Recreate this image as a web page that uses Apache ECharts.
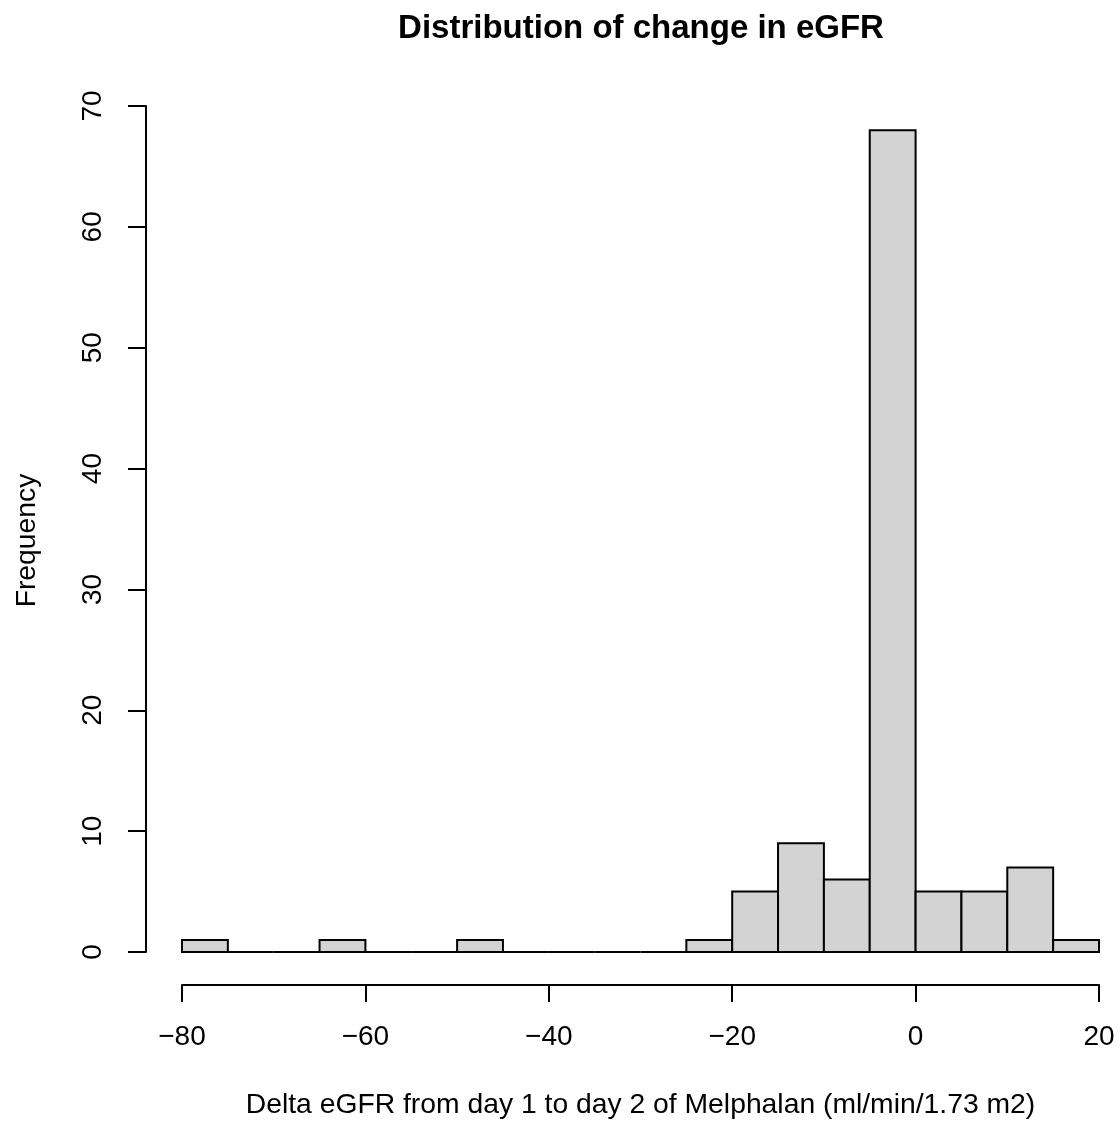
<!DOCTYPE html>
<html>
<head>
<meta charset="utf-8">
<title>Distribution of change in eGFR</title>
<script src="https://cdn.jsdelivr.net/npm/echarts@6/dist/echarts.min.js"></script>
<style>
  html, body { margin: 0; padding: 0; background: #fff; }
  #chart { width: 1120px; height: 1126px; }
</style>
</head>
<body>
<div id="chart"></div>
<script>
// histogram bins (width 5) and their counts
const binEdges = [-80, -75, -70, -65, -60, -55, -50, -45, -40, -35, -30,
  -25, -20, -15, -10, -5, 0, 5, 10, 15, 20]
const counts = [1, 0, 0, 1, 0, 0, 1, 0, 0, 0, 0, 1, 5, 9, 6, 68, 5, 5, 7, 1]
const xTicks = [-80, -60, -40, -20, 0, 20]
const yTicks = [0, 10, 20, 30, 40, 50, 60, 70]

const FONT = '"Liberation Sans", Arial, Helvetica, sans-serif'

const bins = counts.map((c, i) => [binEdges[i], binEdges[i + 1], c])

const chart = echarts.init(document.getElementById('chart'), null, { renderer: 'canvas' })

chart.setOption({
  backgroundColor: '#ffffff',
  animation: false,
  title: {
    text: 'Distribution of change in eGFR',
    left: 641,
    top: 12,
    padding: 0,
    textAlign: 'center',
    textStyle: {
      fontFamily: FONT,
      fontSize: 33,
      fontWeight: 'bold',
      color: '#000'
    }
  },
  grid: {
    left: 182,
    right: 21,
    top: 106,
    bottom: 174,
    containLabel: false
  },
  xAxis: {
    type: 'value',
    min: xTicks[0],
    max: xTicks[xTicks.length - 1],
    interval: 20,
    offset: 33,
    name: 'Delta eGFR from day 1 to day 2 of Melphalan (ml/min/1.73 m2)',
    nameLocation: 'middle',
    nameGap: 106,
    nameTextStyle: { fontFamily: FONT, fontSize: 28.3, color: '#000' },
    axisLine: { show: true, onZero: false, lineStyle: { color: '#000', width: 2 } },
    axisTick: { show: true, length: 17, lineStyle: { color: '#000', width: 2 } },
    axisLabel: {
      margin: 38,
      fontFamily: FONT,
      fontSize: 28,
      color: '#000',
      formatter: v => String(v).replace('-', '\u2212')
    },
    splitLine: { show: false }
  },
  yAxis: {
    type: 'value',
    min: yTicks[0],
    max: yTicks[yTicks.length - 1],
    interval: 10,
    offset: 36,
    name: 'Frequency',
    nameLocation: 'middle',
    nameGap: 105,
    // R centres this label on the full plot region, a bit lower than the axis middle
    nameTextStyle: { fontFamily: FONT, fontSize: 28.3, color: '#000', padding: [0, 23, 0, 0] },
    axisLine: { show: true, onZero: false, lineStyle: { color: '#000', width: 2 } },
    axisTick: { show: true, length: 18, lineStyle: { color: '#000', width: 2 } },
    axisLabel: {
      margin: 39,
      rotate: 90,
      fontFamily: FONT,
      fontSize: 28,
      color: '#000'
    },
    splitLine: { show: false }
  },
  series: [{
    type: 'custom',
    clip: false,
    data: bins,
    encode: { x: [0, 1], y: 2 },
    renderItem(params, api) {
      const p0 = api.coord([api.value(0), api.value(2)])
      const p1 = api.coord([api.value(1), 0])
      return {
        type: 'rect',
        shape: { x: p0[0], y: p0[1], width: p1[0] - p0[0], height: p1[1] - p0[1] },
        style: { fill: '#d3d3d3', stroke: '#000', lineWidth: 2 }
      }
    }
  }]
})
</script>
</body>
</html>
